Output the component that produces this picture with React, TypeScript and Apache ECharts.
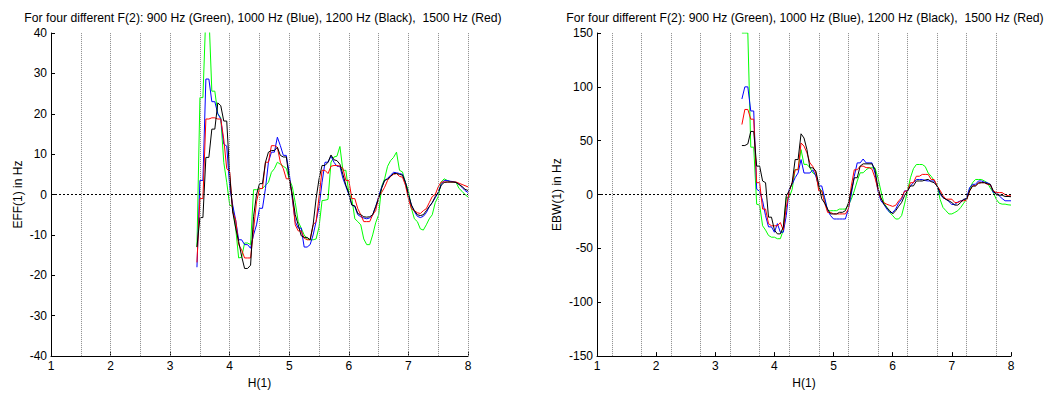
import React, { useEffect, useRef } from "react";
import * as echarts from "echarts";

const TITLE = "For four different F(2): 900 Hz (Green), 1000 Hz (Blue), 1200 Hz (Black),  1500 Hz (Red)";

const xValues = [
  3.45, 3.5, 3.55, 3.6, 3.65, 3.7, 3.75, 3.8, 3.85, 3.9,
  3.95, 4.0, 4.05, 4.1, 4.15, 4.2, 4.25, 4.3, 4.35, 4.4,
  4.45, 4.5, 4.55, 4.6, 4.65, 4.7, 4.75, 4.8, 4.85, 4.9,
  4.95, 5.0, 5.05, 5.1, 5.15, 5.2, 5.25, 5.3, 5.35, 5.4,
  5.45, 5.5, 5.55, 5.6, 5.65, 5.7, 5.75, 5.8, 5.85, 5.9,
  5.95, 6.0, 6.05, 6.1, 6.15, 6.2, 6.25, 6.3, 6.35, 6.4,
  6.45, 6.5, 6.55, 6.6, 6.65, 6.7, 6.75, 6.8, 6.85, 6.9,
  6.95, 7.0, 7.05, 7.1, 7.15, 7.2, 7.25, 7.3, 7.35, 7.4,
  7.45, 7.5, 7.55, 7.6, 7.65, 7.7, 7.75, 7.8, 7.85, 7.9,
  7.95, 8.0,
];

// Left panel: EFF(1) in Hz
const effGreen = [
  -13, 24, 24, 45, 45, 25.6, 25.6, 20, 19, 8,
  3, -2.6, -3, -8.3, -15.7, -15.5, -12, -12, -12.4, 1.2,
  1.2, 1.4, 1.5, 2.3, 3, 5.5, 6.4, 8, 7.5, 7,
  6.5, 3.8, 2, -2, -6.7, -8.3, -10, -11, -11.2, -11.2,
  -11, -8, -1.5, -1.4, -1.2, 8, 9.3, 9.5, 11.9, 6,
  6, 0.3, -1, -6, -6.7, -7.5, -11, -12.4, -12.4, -10,
  -7, -5, 2, 3.9, 7, 8.4, 9.2, 10.5, 6, 5.6,
  3, 1, -3.4, -6, -6.7, -8.5, -8.8, -7.5, -6, -5,
  -2, -0.5, 3.1, 3.9, 3.5, 3.2, 3.1, 3, 1.5, 0.8,
  0, -0.6,
];
const effBlue = [
  -18, 3.5, 3.5, 28.6, 28.6, 23, 23, 20, 18.7, 12.5,
  12, 1.9, -2.6, -6.3, -11.2, -11.2, -12.4, -12.4, -13.3, -10,
  -7.5, -3.4, -3.4, 1.5, 8, 10.5, 10.5, 14.2, 12.1, 9.7,
  9.7, 5.2, -1, -6.7, -8.3, -8.3, -13, -13, -12.4, -10,
  -6.7, -3, 3, 8, 8, 9.5, 8, 7, 7, 4,
  2, 0, -2.6, -3, -5, -5.5, -5.8, -6, -5.8, -5,
  -3, -0.5, 1.8, 3.5, 4, 4.8, 5.5, 5.4, 5.2, 5,
  3, 0, -2.6, -4.2, -5.4, -5.7, -5.4, -4.5, -3, -2,
  -0.8, 0.5, 2.5, 3.5, 3.5, 3.3, 3.2, 3, 2.5, 1.8,
  1, 0.5,
];
const effRed = [
  -16.8, -1, -1, 18.7, 18.7, 19, 19, 18.7, 18.7, 13.7,
  6.4, 5.6, -4.3, -6.3, -12.4, -13.7, -15.7, -15.7, -15.7, -8.7,
  -1.8, 1.5, 1.5, 8, 8, 12.1, 12.1, 11.7, 8, 6.4,
  3.9, 3.9, -0.2, -7.5, -9, -9, -10.8, -11.2, -11.2, -7.5,
  -6.7, -0.6, 6, 6, 5.2, 7, 7.2, 7.2, 7, 6.5,
  3.5, 3.5, -1, -1, -3.5, -5, -6.7, -6.7, -6.7, -5,
  -4, -0.6, 0.5, 1.8, 3.5, 4.5, 5, 5.2, 4.5, 4.3,
  2.3, -1, -3.5, -4, -4.5, -4.7, -4, -3.5, -2, -0.5,
  0, 1.9, 3.1, 3.1, 3.1, 3.1, 3.1, 3.1, 2.8, 2.5,
  2.2, 1.9,
];
const effBlack = [
  -13, -5.7, -5.7, 9.2, 9.2, 16.2, 16.2, 22.7, 22, 18.2,
  18.2, 4.8, -4.3, -8.3, -11.6, -15.3, -18.3, -18.3, -17.5, -5.5,
  0, 2.7, 2.7, 8, 10.5, 10.9, 10.9, 11.7, 9.7, 9.3,
  9.3, 3.9, 0, -5, -7.5, -10.2, -10.6, -10.6, -11.2, -7.5,
  -1, 3.9, 7.2, 7.2, 8, 9.8, 8.6, 8.4, 7.5, 5,
  2.3, 0.3, -2.6, -2.8, -4.7, -5, -5.5, -5.6, -5.5, -5,
  -3, -1, 1.5, 3.5, 3.8, 4.5, 5.2, 5.2, 5, 4.8,
  3, 0, -2.6, -4, -5, -5.2, -5, -4, -3, -2,
  -0.5, 0.5, 2.3, 3, 3.1, 3.1, 3.1, 3, 2.5, 2,
  1.3, 1,
];

// Right panel: EBW(1) in Hz
const ebwGreen = [
  150, 150, 150, 44, 44, -9, -9.8, -29, -33, -38,
  -39.6, -39.6, -41, -41, -33, -2.8, -2.8, 4.9, 23.3, 23.3,
  41.7, 28, 28, 25, 20, 18.5, 6.4, 3.4, -4.3, -15,
  -15, -15, -15, -13.5, -13.5, -13.5, -10, -4.3, 3.4, 12.6,
  20.2, 20.2, 23, 24.8, 24.8, 24.8, 15.6, 3.4, -7.5, -12,
  -16.6, -19.6, -22.7, -22.7, -19.6, -8.9, 3.4, 15.6, 24, 27.9,
  27.9, 27.9, 26, 20, 17, 13, 9, -4.3, -12, -15,
  -18, -18, -16.6, -15, -12, -8, -4.3, 5, 11, 14,
  14, 14, 12.6, 11, 6, 2, -4.3, -8, -8.9, -8.9,
  -9.5, -9.8,
];
const ebwBlue = [
  88.7, 100, 100, 77.6, 77.6, 5, 3, -5.8, -19.6, -30,
  -30, -35, -27, -35, -35, -19.6, 5, 9.5, 15.6, 20,
  32.5, 20, 20, 20, 23, 17, 8, 8, -3, -15,
  -19.6, -22.7, -22.7, -22.7, -22.7, -22.7, -13.5, 0.3, 17, 29.4,
  29.4, 33, 29.4, 29.4, 29.4, 20, 3.4, -5.8, -9, -13.5,
  -16.6, -16.6, -13.5, -8, -4.3, 3.4, 3.4, 8, 11, 14,
  14, 14, 13, 12.6, 12.6, 12.6, 8, 0.3, -2.8, -4.3,
  -6.5, -9.2, -9.2, -7, -5.8, -5, -3, 6.4, 9.5, 9.5,
  12.6, 12.6, 11.5, 11, 9.5, 1.8, 1.8, -1.2, -3.7, -5.8,
  -5.8, -5.8,
];
const ebwRed = [
  65, 79, 79, 70, 70, 11, 11, -13.5, -13.5, -27,
  -29, -29, -29, -26, -33, -12, 3, 11, 23, 23,
  47.9, 45, 38.7, 29.4, 26, 20, 3.4, 3.4, -8, -16.6,
  -16.6, -18, -18, -18, -18, -18, -13.5, 8, 23, 23,
  26.4, 26.4, 25, 25, 23.5, 15.6, 5, -4, -7.5, -9,
  -10, -11, -10, -6, -3, 3, 3.4, 11, 11, 17,
  17, 18.7, 18.7, 18.7, 14, 14, 8, 4, -1, -4.3,
  -4.3, -4.3, -7.4, -7.4, -6, -5.8, -5, 3.4, 8, 8,
  11, 11, 11, 9.5, 9, 3.4, 1.8, 1.8, 1.8, 0,
  -1.2, -1.2,
];
const ebwBlack = [
  45.5, 45.5, 47, 58.6, 58.6, 26.4, 26.4, 12.6, 11, -21,
  -21, -33, -36.5, -36.5, -30, -1.2, 3.4, 11, 32.5, 32.5,
  56.4, 52.5, 41.7, 24.8, 24.8, 21.8, 9.5, -4, -8, -13.5,
  -18, -18, -18, -16.5, -16.5, -15, -8, 3.4, 15.6, 15.6,
  26.4, 28.5, 28.5, 28.5, 28.5, 23, 6.4, -2.8, -8.9, -12,
  -15, -18, -15, -11, -7.4, -1, 3.4, 8, 8, 12.6,
  12.6, 12.6, 13.5, 14.1, 12, 11, 8, 2, -2.8, -4.5,
  -5.8, -7.5, -9.8, -9.8, -7.4, -4.3, -4.3, 3.4, 8, 8,
  10.5, 11, 11, 10, 9.5, 3.4, 0, -0.6, -0.6, -1.8,
  -1.8, -2,
];

const leftGuides = [1.5, 2, 2.5, 3, 3.5, 4, 4.5, 5, 5.5, 6, 6.5, 7, 7.5, 8];
const rightGuides = [1.25, 1.75, 2.25, 2.75, 3.25, 3.75, 4.25, 4.75, 5.25, 5.75, 6.25, 6.75, 7.25, 7.75];

const FONT = "'Liberation Sans', Arial, sans-serif";

function pairs(arr: number[]) {
  return xValues.map((x, i) => [x, arr[i]]);
}

function guideMarkLine(guides: number[]) {
  return {
    silent: true,
    symbol: ["none", "none"],
    label: { show: false },
    animation: false,
    data: [
      ...guides.map((g) => ({ xAxis: g, lineStyle: { color: "#8a8a8a", type: "dotted", width: 1 } })),
      { yAxis: 0, lineStyle: { color: "#000", type: [2, 2], width: 1 } },
    ],
  };
}

function xAxisDef(gridIndex: number) {
  return {
    type: "value",
    gridIndex,
    min: 1,
    max: 8,
    interval: 1,
    name: "H(1)",
    nameLocation: "middle",
    nameGap: 18,
    nameTextStyle: { color: "#000", fontSize: 12, fontFamily: FONT },
    axisLine: { show: true, onZero: false, lineStyle: { color: "#000", width: 1 } },
    axisTick: { show: true, inside: true, length: 4, lineStyle: { color: "#000" } },
    axisLabel: { color: "#000", fontSize: 12, fontFamily: FONT, margin: 4 },
    splitLine: { show: false },
  };
}

function yAxisDef(gridIndex: number, name: string, min: number, max: number, interval: number, gap: number) {
  return {
    type: "value",
    gridIndex,
    min,
    max,
    interval,
    name,
    nameLocation: "middle",
    nameGap: gap,
    nameRotate: 90,
    nameTextStyle: { color: "#000", fontSize: 12, fontFamily: FONT },
    axisLine: { show: true, onZero: false, lineStyle: { color: "#000", width: 1 } },
    axisTick: { show: true, inside: true, length: 4, lineStyle: { color: "#000" } },
    axisLabel: { color: "#000", fontSize: 12, fontFamily: FONT, margin: 4 },
    splitLine: { show: false },
  };
}

function lineSeries(name: string, data: number[], color: string, idx: number, extra: any = {}) {
  return {
    name,
    type: "line",
    xAxisIndex: idx,
    yAxisIndex: idx,
    data: pairs(data),
    showSymbol: false,
    symbol: "none",
    clip: true,
    lineStyle: { color, width: 1 },
    itemStyle: { color },
    ...extra,
  };
}

export default function App() {
  const ref = useRef<HTMLDivElement>(null);
  useEffect(() => {
    if (!ref.current) return;
    const chart = echarts.init(ref.current, undefined, { renderer: "svg" });
    const titleStyle = { fontSize: 12.2, fontWeight: "normal", color: "#000", fontFamily: FONT };
    chart.setOption({
      animation: false,
      backgroundColor: "#fff",
      title: [
        { text: TITLE, left: 258, top: 7, textAlign: "center", textStyle: titleStyle },
        { text: TITLE, left: 800, top: 7, textAlign: "center", textStyle: titleStyle },
      ],
      grid: [
        { left: 51, right: 579, top: 33, bottom: 35 },
        { left: 597, right: 36, top: 33, bottom: 35 },
      ],
      xAxis: [xAxisDef(0), xAxisDef(1)],
      yAxis: [
        yAxisDef(0, "EFF(1) in Hz", -40, 40, 10, 27),
        yAxisDef(1, "EBW(1) in Hz", -150, 150, 50, 34),
      ],
      series: [
        lineSeries("EFF 900 Hz", effGreen, "#00ff00", 0, { markLine: guideMarkLine(leftGuides) }),
        lineSeries("EFF 1000 Hz", effBlue, "#0000ff", 0),
        lineSeries("EFF 1500 Hz", effRed, "#ff0000", 0),
        lineSeries("EFF 1200 Hz", effBlack, "#000000", 0),
        lineSeries("EBW 900 Hz", ebwGreen, "#00ff00", 1, { markLine: guideMarkLine(rightGuides) }),
        lineSeries("EBW 1000 Hz", ebwBlue, "#0000ff", 1),
        lineSeries("EBW 1500 Hz", ebwRed, "#ff0000", 1),
        lineSeries("EBW 1200 Hz", ebwBlack, "#000000", 1),
      ],
    });
    return () => chart.dispose();
  }, []);
  return (
    <div
      ref={ref}
      style={{ position: "fixed", left: 0, top: 0, width: 1047, height: 394, background: "#fff" }}
    />
  );
}
